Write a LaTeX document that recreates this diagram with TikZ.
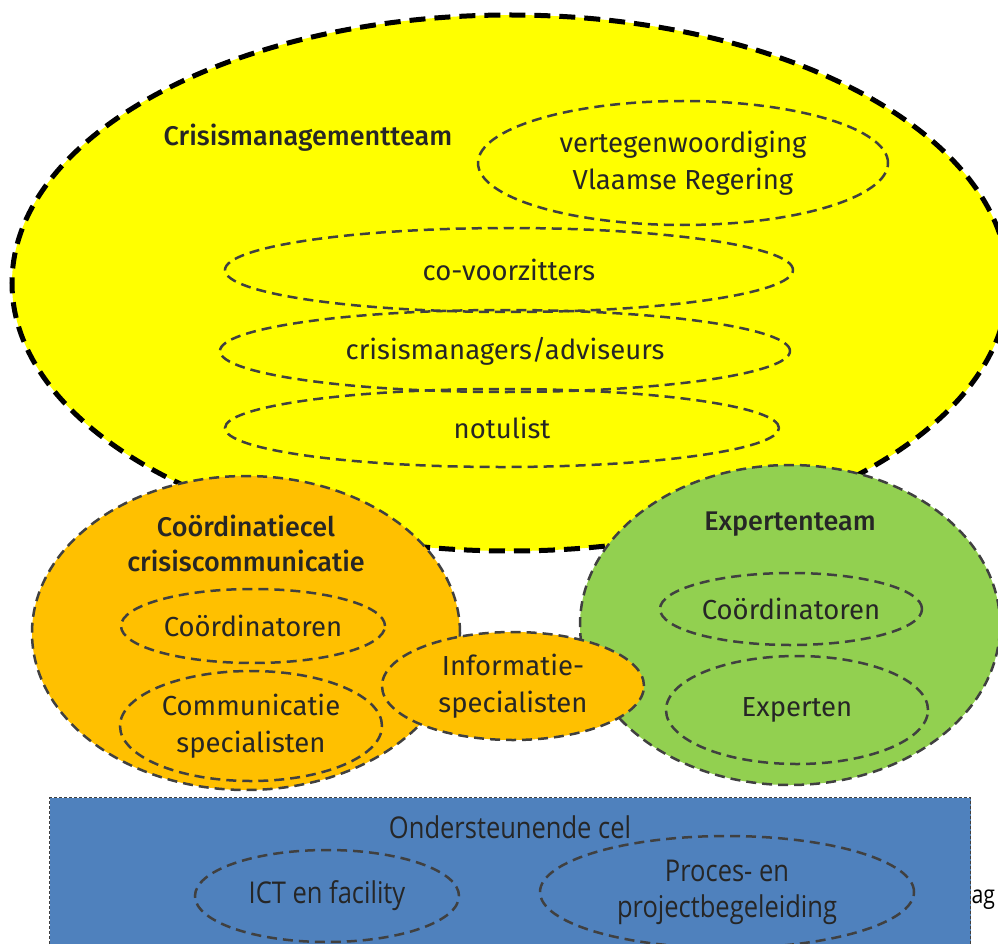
\documentclass[tikz,border=0pt]{standalone}
\usepackage{fontspec}
\setmainfont{Fira Sans}[BoldFont={Fira Sans Medium}]
\newfontfamily\condfont[FakeStretch=0.85]{Open Sans}
\usetikzlibrary{shapes.geometric}
\definecolor{cmtyellow}{HTML}{FFFF00}
\definecolor{cccorange}{HTML}{FFC000}
\definecolor{expgreen}{HTML}{92D050}
\definecolor{supblue}{HTML}{4F81BD}
\definecolor{dashgray}{HTML}{404040}
\definecolor{textgray}{HTML}{262626}
\tikzset{
	team/.style={ellipse, draw=dashgray, line width=2.5pt, dash pattern=on 10pt off 6pt, inner sep=0pt},
	member/.style={ellipse, draw=dashgray, line width=2.5pt, dash pattern=on 10pt off 6pt, inner sep=0pt,
		align=center, text=textgray, font=\fontsize{27.5}{37}\selectfont},
	teamtitle/.style={align=center, text=textgray, font=\bfseries\fontsize{27}{35}\selectfont},
	supmember/.style={member, font=\condfont\fontsize{30}{36}\selectfont},
}

\begin{document}
\begin{tikzpicture}[x=1pt,y=-1pt]
	\useasboundingbox (0,0) rectangle (998,944);
	\clip (0,0) rectangle (998,944);

	%CRISISMANAGEMENTTEAM
	\node[ellipse, fill=cmtyellow, draw=black, line width=5pt, dash pattern=on 16pt off 9pt,
		minimum width=996pt, minimum height=536pt] (cmt) at (510,283) {};
	\node[teamtitle] (cmttitle) at (308,138) {Crisismanagementteam};
	\node[member, minimum width=410pt, minimum height=124pt] (vlaamse) at (683,163)
		{vertegenwoordiging\\Vlaamse Regering};
	\node[member, minimum width=568pt, minimum height=84pt] (covoorz) at (509,270) {co-voorzitters};
	\node[member, minimum width=570pt, minimum height=82pt] (managers) at (505,351) {crisismanagers/adviseurs};
	\node[member, minimum width=554pt, minimum height=78pt] (notulist) at (502,428) {notulist};

	%COORDINATIECEL
	\node[team, fill=cccorange, minimum width=428pt, minimum height=314pt] (ccc) at (246,633) {};
	\node[teamtitle] (ccctitle) at (246,543) {Coördinatiecel\\crisiscommunicatie};
	\node[member, minimum width=264pt, minimum height=74pt] (ccccoord) at (253,626) {Coördinatoren};
	\node[member, minimum width=262pt, minimum height=110pt] (cccspec) at (251,726) {Communicatie\\specialisten};

	%EXPERTENTEAM
	\node[team, fill=expgreen, minimum width=420pt, minimum height=320pt] (exp) at (790,625) {};
	\node[teamtitle] (exptitle) at (790,524) {Expertenteam};
	\node[member, minimum width=262pt, minimum height=72pt] (expcoord) at (791,609) {Coördinatoren};
	\node[member, minimum width=262pt, minimum height=108pt] (experten) at (797,710) {Experten};

	%INFORMATIESPECIALISTEN
	\node[team, fill=cccorange, minimum width=262pt, minimum height=108pt, align=center,
		text=textgray, font=\fontsize{27.5}{37}\selectfont] (info) at (513,686) {Informatie-\\specialisten};

	%ONDERSTEUNENDE CEL
	\node[rectangle, anchor=north west, fill=supblue, draw=dashgray, line width=1pt,
		dash pattern=on 3pt off 2pt, minimum width=921pt, minimum height=170pt] (sup) at (49,797) {};
	\node[text=textgray, font=\condfont\fontsize{30}{36}\selectfont] (suptitle) at (510,827) {Ondersteunende cel};
	\node[supmember, minimum width=264pt, minimum height=92pt] (ict) at (327,896) {ICT en facility};
	\node[supmember, minimum width=374pt, minimum height=112pt] (proces) at (727,892) {Proces- en\\projectbegeleiding};
	\node[font=\condfont\fontsize{25}{30}\selectfont, anchor=west] (ag) at (968,900) {ag};
\end{tikzpicture}
\end{document}
